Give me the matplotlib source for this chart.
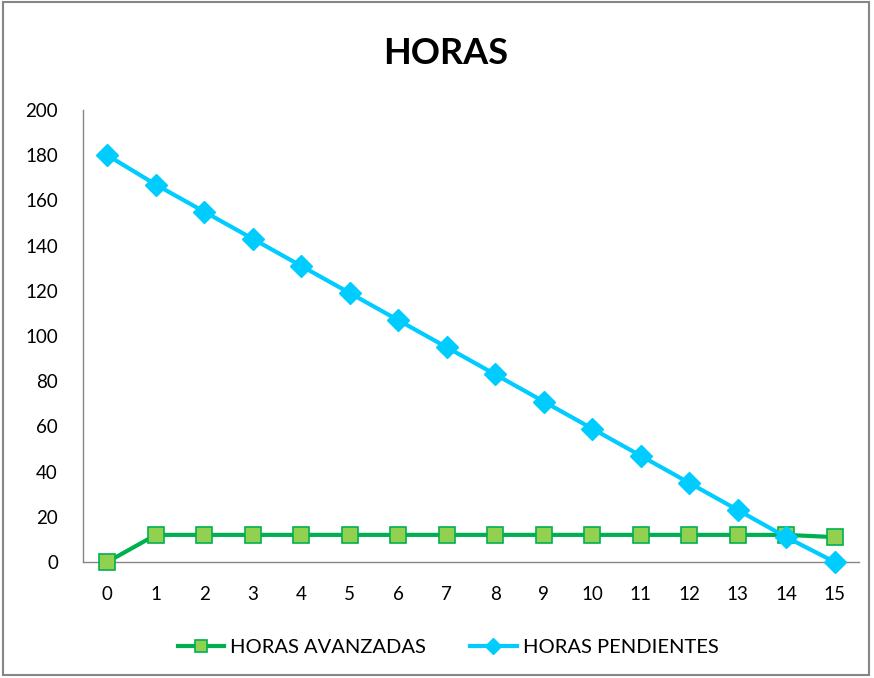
import matplotlib
matplotlib.use("Agg")
import matplotlib.pyplot as plt
from matplotlib.patches import Rectangle

x_labels = [str(i) for i in range(16)]
horas_avanzadas = [0, 12, 12, 12, 12, 12, 12, 12, 12, 12, 12, 12, 12, 12, 12, 11]
horas_pendientes = [180, 167, 155, 143, 131, 119, 107, 95, 83, 71, 59, 47, 35, 23, 11, 0]
y_ticks = list(range(0, 201, 20))

plt.rcParams['font.family'] = ['Lato', 'DejaVu Sans']

fig = plt.figure(figsize=(8.74, 6.78), dpi=100)
ax = fig.add_axes([83/874, 1-562/678, (859-83)/874, (562-110)/678])

xs = list(range(len(x_labels)))
ax.plot(xs, horas_avanzadas, color='#00B050', lw=3, marker='s', ms=12,
        markerfacecolor='#92D050', markeredgecolor='#00B050', markeredgewidth=1.2,
        label='HORAS AVANZADAS', zorder=3, clip_on=False)
ax.plot(xs, horas_pendientes, color='#00CCFF', lw=3, marker='D', ms=11,
        markerfacecolor='#00CCFF', markeredgecolor='#00CCFF',
        label='HORAS PENDIENTES', zorder=4, clip_on=False)

ax.set_xlim(-0.5, 15.5)
ax.set_ylim(0, 200)
ax.set_xticks(xs)
ax.set_xticklabels(x_labels)
ax.set_yticks(y_ticks)
ax.tick_params(axis='both', length=0, labelsize=13.5)
ax.tick_params(axis='x', pad=17)
ax.tick_params(axis='y', pad=18)
for s in ['top', 'right']:
    ax.spines[s].set_visible(False)
for s in ['left', 'bottom']:
    ax.spines[s].set_color('#868686')
    ax.spines[s].set_linewidth(1)
    ax.spines[s].set_zorder(1)

fig.text(446/874, 1-53/678, 'HORAS', ha='center', va='center', fontsize=26, fontweight='bold')

leg = fig.legend(loc='center', bbox_to_anchor=(448/874, 1-647/678), ncol=2, frameon=False,
                 fontsize=14.5, handlelength=2.3, columnspacing=2.2, handletextpad=0.3,
                 markerscale=0.7)

fig.patches.append(Rectangle((3/874, 3/678), 866/874, 673/678, transform=fig.transFigure,
                             fill=False, edgecolor='#868686', lw=1.5))

fig.savefig('out.png', dpi=100)
